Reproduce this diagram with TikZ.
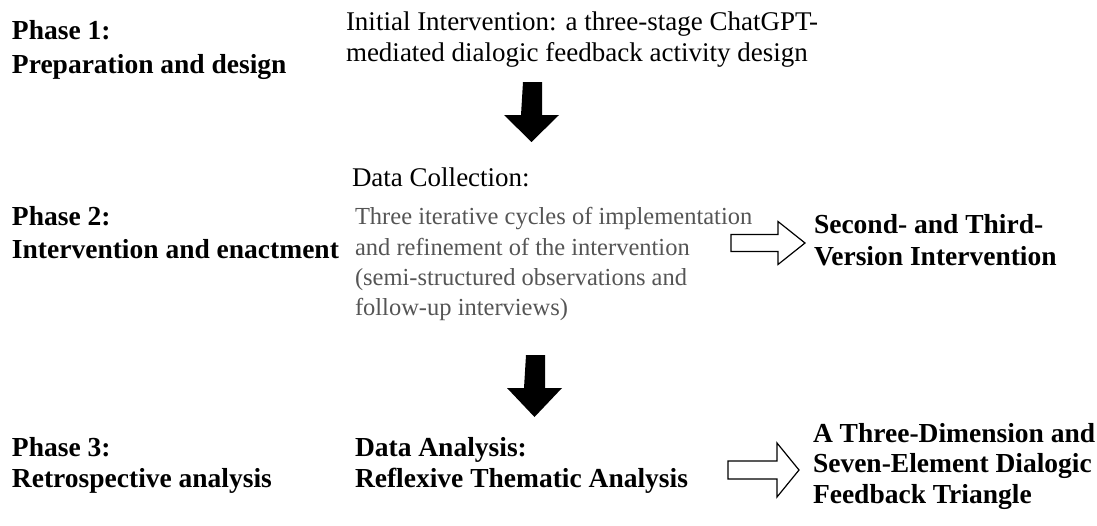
\documentclass[tikz,border=0pt]{standalone}
\usepackage{fontspec}
\setmainfont{Liberation Serif}
\definecolor{notegray}{RGB}{85,85,85}
\begin{document}
\begin{tikzpicture}[x=1pt,y=-1pt,
  textline/.style={anchor=base west, inner sep=0pt, outer sep=0pt},
  phase/.style={textline, font=\fontsize{27.5}{32}\selectfont\bfseries},
  body/.style={textline, font=\fontsize{27}{30}\selectfont},
  note/.style={textline, font=\fontsize{24.5}{30}\selectfont, text=notegray},
  result/.style={textline, font=\fontsize{27.5}{32}\selectfont\bfseries},
  solidarrow/.style={fill=black, draw=none},
  hollowarrow/.style={draw=black, line width=1.2pt, fill=white, line join=miter}]
\useasboundingbox (0,0) rectangle (1097,525);

% Phase labels (left column)
\node[phase] (p1a) at (12,39)  {Phase 1:};
\node[phase] (p1b) at (12,73)  {Preparation and design};
\node[phase] (p2a) at (12,225) {Phase 2:};
\node[phase] (p2b) at (12,258) {Intervention and enactment};
\node[phase] (p3a) at (12,456) {Phase 3:};
\node[phase] (p3b) at (12,487) {Retrospective analysis};

% Middle column
\node[body] (i1) at (346,30) {Initial Intervention: a three-stage ChatGPT-};
\node[body] (i2) at (346,61) {mediated dialogic feedback activity design};

\node[body] (dc) at (352,186) {Data Collection:};
\node[note] (n1) at (355,224) {Three iterative cycles of implementation};
\node[note] (n2) at (355,255) {and refinement of the intervention};
\node[note] (n3) at (355,285) {(semi-structured observations and};
\node[note] (n4) at (355,315) {follow-up interviews)};

\node[phase] (da1) at (355,456) {Data Analysis:};
\node[phase] (da2) at (355,487) {Reflexive Thematic Analysis};

% Right column
\node[result] (r1a) at (814,233) {Second- and Third-};
\node[result] (r1b) at (814,265) {Version Intervention};

\node[result] (r2a) at (813,442) {A Three-Dimension and};
\node[result] (r2b) at (813,472) {Seven-Element Dialogic};
\node[result] (r2c) at (813,503) {Feedback Triangle};

% Solid downward arrows between phases
\coordinate (d1) at (532.5,82);
\draw[solidarrow] (d1) ++(-9.5,0) -- ++(19,0) -- ++(0,33) -- ++(17,0)
  -- ++(-27.5,27) -- ++(-27.5,-27) -- ++(17,0) -- cycle;
\coordinate (d2) at (535.5,355);
\draw[solidarrow] (d2) ++(-9.5,0) -- ++(19,0) -- ++(0,33) -- ++(17,0)
  -- ++(-27.5,29) -- ++(-27.5,-29) -- ++(17,0) -- cycle;

% Hollow arrows towards the outcomes
\coordinate (h1) at (731,243);
\draw[hollowarrow] (h1) ++(0,-8.5) -- ++(47,0) -- ++(0,-13) -- ++(27,21.5)
  -- ++(-27,21.5) -- ++(0,-13) -- ++(-47,0) -- cycle;
\coordinate (h2) at (728,470);
\draw[hollowarrow] (h2) ++(0,-9) -- ++(49,0) -- ++(0,-18) -- ++(22,27)
  -- ++(-22,27) -- ++(0,-18) -- ++(-49,0) -- cycle;
\end{tikzpicture}
\end{document}
